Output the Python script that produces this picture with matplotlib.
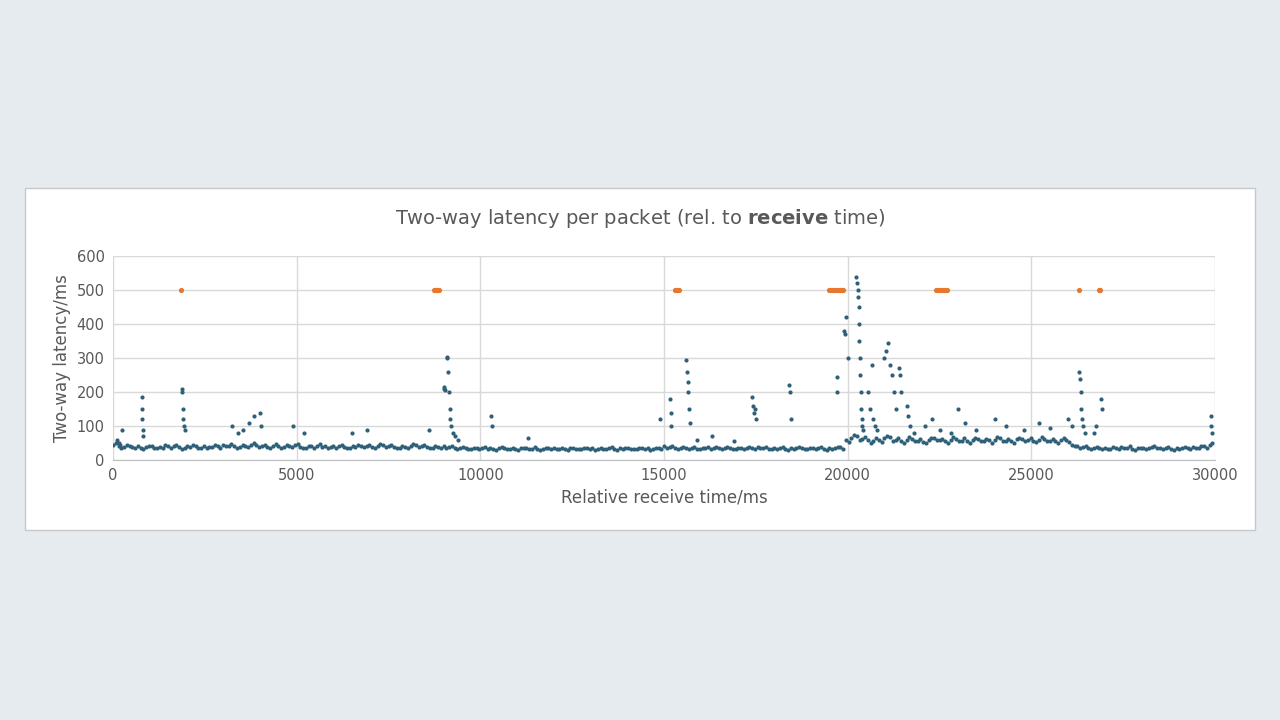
import matplotlib; matplotlib.use("Agg")
import matplotlib.pyplot as plt
import numpy as np
from matplotlib.patches import Rectangle

# baseline samples, one every 150 ms
base_step = 150
base_y = [
 45,40,38,42,36,35,38,40,37,36, 42,40,38,36,39,41,37,35,38,40,
 44,42,40,38,41,45,43,40,39,42, 40,38,41,43,39,37,40,42,38,36,
 41,40,38,37,39,42,40,38,41,44, 40,38,37,39,41,43,40,38,36,38,
 40,39,37,36,35,34,36,35,33,34, 35,36,34,33,35,36,34,33,34,35,
 36,34,33,35,34,33,35,36,34,33, 35,34,36,35,34,33,35,36,34,35,
 40,38,36,35,37,36,34,35,38,36, 37,35,36,34,35,37,36,38,35,34,
 36,35,34,37,36,35,34,36,35,34, 36,35,38,60,65,70,62,58,55,60,
 64,68,58,55,60,62,57,54,60,65, 58,56,60,63,57,55,59,62,56,58,
 60,64,57,55,61,63,58,56,60,62, 57,55,60,58,45,40,38,36,35,37,
 36,34,35,38,36,34,35,37,36,40, 36,35,34,37,36,35,38,36,40,45,
]
# second pass of the band, offset by half a step
base_y2 = [
 50,35,44,38,40,33,42,36,39,44, 36,45,34,40,43,35,41,38,44,36,
 40,47,36,43,38,50,39,44,36,46, 35,43,38,47,36,41,35,46,42,39,
 37,44,35,41,43,38,45,36,47,39, 43,35,41,36,46,38,44,35,41,36,
 35,42,34,39,32,37,33,38,36,31, 38,33,37,31,36,33,38,31,36,32,
 33,37,31,36,32,37,33,31,37,32, 38,31,33,37,32,36,33,31,37,32,
 36,42,33,38,34,39,32,37,34,39, 33,38,32,37,33,39,34,35,38,32,
 33,38,31,34,38,32,37,33,38,31, 33,38,34,52,75,58,68,50,66,53,
 70,57,64,49,68,55,62,50,66,58, 63,50,67,56,64,50,66,55,62,51,
 68,57,63,50,66,56,64,52,67,55, 63,50,66,52,40,36,42,33,38,34,
 33,38,32,35,40,31,37,33,39,35, 33,38,31,34,39,33,35,40,37,50,
]
base_x = np.arange(len(base_y)) * base_step
base_x2 = np.arange(len(base_y2)) * base_step + base_step / 2

# spikes / excursions (time ms, latency ms)
spike_x = [100,150,200,250, 780,790,800,810,820, 1880,1890,1900,1910,1920,1950,
 3250,3400,3550,3700,3850,4000,4020, 4900, 5200, 6500,6900, 8600,
 9000,9020,9050,9080,9100,9120,9140,9160,9180,9200,9250,9300,9400,
 10300,10320, 11300, 14900, 15150,15180,15200, 15600,15620,15640,15660,15680,15700,
 15900,16300,16900, 17400,17420,17450,17480,17500, 18400,18420,18450,
 19700,19720, 19900,19920,19950,20000,
 20230,20250,20270,20290,20300,20310,20320,20330,20340,20350,20360,20380,20400,20420,
 20550,20600,20650,20700,20750,20800,
 21000,21050,21100,21150,21200,21250,21300, 21400,21420,21450,
 21600,21650,21700,21800, 22100,22300,22500,22800,23000,23200,23500,
 24000,24300,24800,25200,25500, 26000,26100,
 26300,26320,26340,26360,26380,26400,26450, 26700,26750, 26900,26920,
 29880,29900,29920]
spike_y = [60,50,45,90, 185,150,120,90,70, 210,200,150,120,100,90,
 100,80,90,110,130,140,100, 100, 80, 80,90, 90,
 210,215,205,300,305,260,200,150,120,100,80,70,60,
 130,100, 65, 120, 180,140,100, 295,260,230,200,150,110,
 60,70,55, 185,160,140,150,120, 220,200,120,
 245,200, 380,370,420,300,
 540,520,500,480,450,400,350,300,250,200,150,120,100,90,
 200,150,280,120,100,90,
 300,320,345,280,250,200,150, 270,250,200,
 160,130,100,80, 100,120,90,80,150,110,90,
 120,100,90,110,95, 120,100,
 260,240,200,150,120,100,80, 80,100, 180,150,
 130,100,80]

# lost packets, plotted at 500
lost_x = [1850, 8750,8780,8800,8830,8860, 15300,15330,15360,15400,
 19500,19550,19600,19650,19700,19750,19800,19850,19880,
 22400,22450,22500,22550,22600,22650,22700, 26300, 26850,26880]
lost_y = [500]*len(lost_x)

fig = plt.figure(figsize=(12.8,7.2), dpi=100)
fig.patch.set_facecolor("#e6ebf0")
fig.add_artist(Rectangle((0.0195,0.264),0.961,0.475,transform=fig.transFigure,
    fc="white",ec="#c8c8c8",lw=1.0,zorder=0))
ax = fig.add_axes([0.0883,0.361,0.861,0.283])
ax.set_facecolor("white")
blue = "#2e6079"
ax.scatter(base_x, base_y, s=9, color=blue, zorder=3, linewidths=0)
ax.scatter(base_x2, base_y2, s=9, color=blue, zorder=3, linewidths=0)
ax.scatter(spike_x, spike_y, s=9, color=blue, zorder=3, linewidths=0)
ax.scatter(lost_x, lost_y, s=14, color="#e8772e", zorder=4, linewidths=0)
ax.set_xlim(0,30000); ax.set_ylim(0,600)
ax.set_xticks(range(0,30001,5000)); ax.set_yticks(range(0,601,100))
ax.grid(color="#d9d9d9", lw=1.0); ax.set_axisbelow(True)
for sp in ax.spines.values(): sp.set_visible(False)
ax.spines["bottom"].set_visible(True); ax.spines["bottom"].set_color("#bfbfbf")
ax.tick_params(length=0, labelsize=10.5, colors="#595959", pad=6)
ax.set_xlabel("Relative receive time/ms", fontsize=12, color="#595959")
ax.set_ylabel("Two-way latency/ms", fontsize=12, color="#595959")
fig.text(0.5,0.696,"Two-way latency per packet (rel. to $\\bf{receive}$ time)",
    ha="center", va="center", fontsize=14, color="#595959")
fig.savefig("out.png", dpi=100, facecolor=fig.get_facecolor())
